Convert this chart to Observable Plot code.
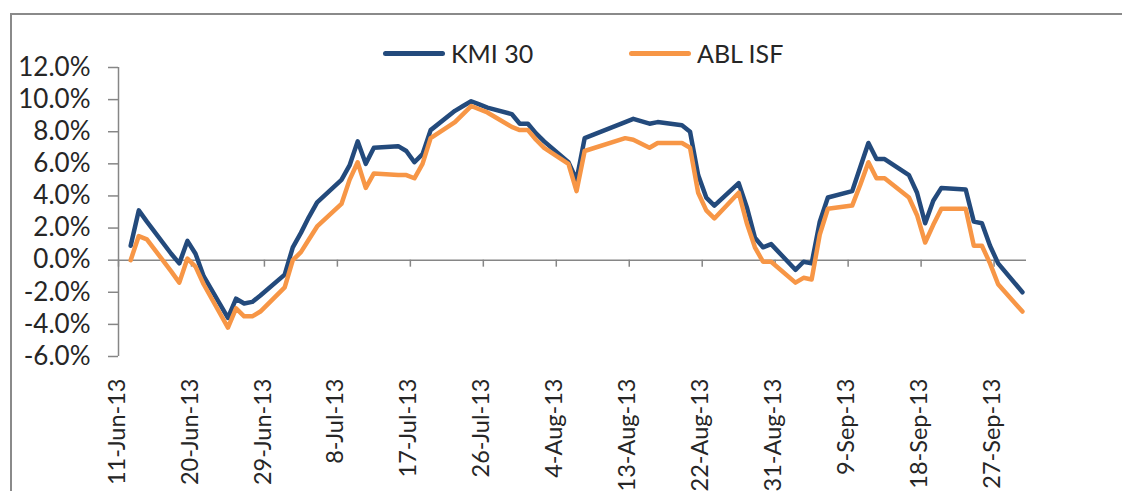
<!DOCTYPE html>
<html><head><meta charset="utf-8">
<script src="https://cdn.jsdelivr.net/npm/d3@7"></script>
<script src="https://cdn.jsdelivr.net/npm/@observablehq/plot@0.6"></script>
<style>
body{margin:0;background:#fff;}
#wrap{position:relative;width:1122px;height:491px;overflow:hidden;font-family:Lato,sans-serif;background:#fff;}
#frame{position:absolute;left:10px;top:13px;width:1300px;height:700px;border-left:2px solid #8a8a8a;border-top:2px solid #8a8a8a;}
#chart{position:absolute;left:0;top:0;}
.lg{position:absolute;top:40px;display:flex;align-items:center;font-size:25px;color:#262626;height:26px;}
.lg .sw{width:62px;height:5px;border-radius:3px;margin-right:6px;}
</style>
</head><body>
<div id="wrap"><div id="frame"></div><div id="chart"></div>
<div class="lg" style="left:383px"><span class="sw" style="background:#234a7c"></span><span id="l1"></span></div>
<div class="lg" style="left:629px"><span class="sw" style="background:#f79646"></span><span id="l2"></span></div>
</div>
<script>
const seriesNames = ["KMI 30", "ABL ISF"];
const dates = ["2013-06-12","2013-06-13","2013-06-14","2013-06-17","2013-06-18","2013-06-19","2013-06-20","2013-06-21","2013-06-24","2013-06-25","2013-06-26","2013-06-27","2013-06-28","2013-07-01","2013-07-02","2013-07-03","2013-07-04","2013-07-05","2013-07-08","2013-07-09","2013-07-10","2013-07-11","2013-07-12","2013-07-15","2013-07-16","2013-07-17","2013-07-18","2013-07-19","2013-07-22","2013-07-23","2013-07-24","2013-07-25","2013-07-26","2013-07-29","2013-07-30","2013-07-31","2013-08-01","2013-08-02","2013-08-05","2013-08-06","2013-08-07","2013-08-12","2013-08-13","2013-08-15","2013-08-16","2013-08-19","2013-08-20","2013-08-21","2013-08-22","2013-08-23","2013-08-26","2013-08-27","2013-08-28","2013-08-29","2013-08-30","2013-09-02","2013-09-03","2013-09-04","2013-09-05","2013-09-06","2013-09-09","2013-09-10","2013-09-11","2013-09-12","2013-09-13","2013-09-16","2013-09-17","2013-09-18","2013-09-19","2013-09-20","2013-09-23","2013-09-24","2013-09-25","2013-09-26","2013-09-27","2013-09-30"];
const kmi30 = [0.9,3.1,2.4,0.4,-0.2,1.2,0.4,-1.0,-3.6,-2.4,-2.7,-2.6,-2.2,-0.9,0.8,1.7,2.7,3.6,5.0,5.9,7.4,6.0,7.0,7.1,6.8,6.1,6.6,8.1,9.3,9.6,9.9,9.7,9.5,9.1,8.5,8.5,7.9,7.4,6.1,5.0,7.6,8.6,8.8,8.5,8.6,8.4,8.0,5.3,3.9,3.4,4.8,3.3,1.4,0.8,1.0,-0.6,-0.1,-0.2,2.4,3.9,4.3,5.8,7.3,6.3,6.3,5.3,4.2,2.3,3.7,4.5,4.4,2.4,2.3,0.9,-0.2,-2.0];
const ablIsf = [0.0,1.5,1.3,-0.7,-1.4,0.1,-0.4,-1.5,-4.2,-3.0,-3.5,-3.5,-3.2,-1.7,0.0,0.5,1.3,2.1,3.5,5.0,6.1,4.5,5.4,5.3,5.3,5.1,6.0,7.6,8.6,9.1,9.6,9.4,9.2,8.3,8.1,8.1,7.5,7.0,6.0,4.3,6.8,7.6,7.5,7.0,7.3,7.3,7.0,4.2,3.1,2.6,4.2,2.3,0.8,-0.1,-0.1,-1.4,-1.1,-1.2,1.6,3.2,3.4,4.7,6.1,5.1,5.1,3.9,2.8,1.1,2.2,3.2,3.2,0.9,0.9,-0.2,-1.5,-3.2];
const tickDates = ["2013-06-11","2013-06-20","2013-06-29","2013-07-08","2013-07-17","2013-07-26","2013-08-04","2013-08-13","2013-08-22","2013-08-31","2013-09-09","2013-09-18","2013-09-27"];
const tickLabels = ["11-Jun-13","20-Jun-13","29-Jun-13","8-Jul-13","17-Jul-13","26-Jul-13","4-Aug-13","13-Aug-13","22-Aug-13","31-Aug-13","9-Sep-13","18-Sep-13","27-Sep-13"];
const yTicks = [-6,-4,-2,0,2,4,6,8,10,12];
const xStart = "2013-06-11", xEnd = "2013-10-01";

document.getElementById("l1").textContent = seriesNames[0];
document.getElementById("l2").textContent = seriesNames[1];

const parse = d3.utcParse("%Y-%m-%d");
const HOUR = 3600e3;
const rows = dates.map((d, i) => ({date: new Date(+parse(d) + 12 * HOUR), kmi: kmi30[i], abl: ablIsf[i]}));
const ticks = tickDates.map((d, i) => ({date: parse(d), label: tickLabels[i]}));
const fmt = v => v.toFixed(1) + "%";

const chart = Plot.plot({
  width: 1122, height: 491,
  marginLeft: 118, marginRight: 96, marginTop: 67, marginBottom: 135,
  style: {fontFamily: "Lato, sans-serif", fontSize: "26px", color: "#262626", background: "transparent", overflow: "visible"},
  x: {type: "utc", domain: [parse(xStart), parse(xEnd)], axis: null},
  y: {domain: [-6, 12], axis: null},
  marks: [
    Plot.ruleY([0], {stroke: "#868686", strokeWidth: 1.5}),
    Plot.ruleX([parse(xStart)], {stroke: "#868686", strokeWidth: 1.5}),
    Plot.axisY({ticks: yTicks, tickSize: 10, tickPadding: 18, tickFormat: fmt, stroke: "#868686", fill: "#262626", strokeWidth: 1.5, fontSize: 26}),
    Plot.ruleX(ticks, {x: "date", y1: 0, y2: 0, insetBottom: -7, stroke: "#868686", strokeWidth: 1.5}),
    Plot.text(ticks, {x: d => new Date(+d.date + 18 * HOUR), text: "label", frameAnchor: "bottom", dy: 22, rotate: -90, textAnchor: "end", fill: "#262626", fontSize: 23.5}),
    Plot.line(rows, {x: "date", y: "kmi", stroke: "#234a7c", strokeWidth: 4.5, strokeLinejoin: "round", strokeLinecap: "round"}),
    Plot.line(rows, {x: "date", y: "abl", stroke: "#f79646", strokeWidth: 4.5, strokeLinejoin: "round", strokeLinecap: "round"})
  ]
});
document.getElementById("chart").appendChild(chart);
</script>
</body></html>
